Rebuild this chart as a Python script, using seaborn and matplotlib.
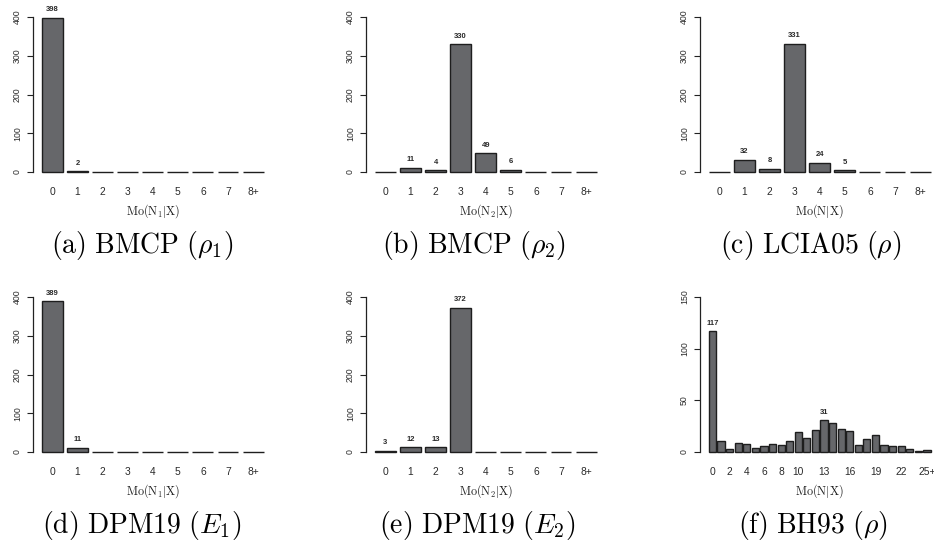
import matplotlib
matplotlib.use("Agg")
import matplotlib.pyplot as plt
import seaborn as sns
import pandas as pd

# ---------------- data ----------------
cats9 = ["0", "1", "2", "3", "4", "5", "6", "7", "8+"]
bmcp_rho1 = [398, 2, 0, 0, 0, 0, 0, 0, 0]
bmcp_rho2 = [0, 11, 4, 330, 49, 6, 0, 0, 0]
lcia05_rho = [0, 32, 8, 331, 24, 5, 0, 0, 0]
dpm19_e1 = [389, 11, 0, 0, 0, 0, 0, 0, 0]
dpm19_e2 = [3, 12, 13, 372, 0, 0, 0, 0, 0]

cats26 = [str(i) for i in range(25)] + ["25+"]
bh93_rho = [117, 11, 3, 9, 8, 4, 6, 8, 7, 11, 19, 14, 21, 31, 28, 22, 20,
            7, 13, 16, 7, 6, 6, 3, 1, 2]
bh93_ticks = ["0", "2", "4", "6", "8", "10", "13", "16", "19", "22", "25+"]
bh93_labeled = ["0", "13"]

ylim9 = 400
yticks9 = [0, 100, 200, 300, 400]
ylim_f = 150
yticks_f = [0, 50, 100, 150]

xlabels = [r"$\mathrm{Mo(N_1|X)}$", r"$\mathrm{Mo(N_2|X)}$", r"$\mathrm{Mo(N|X)}$",
           r"$\mathrm{Mo(N_1|X)}$", r"$\mathrm{Mo(N_2|X)}$", r"$\mathrm{Mo(N|X)}$"]
captions = [r"$\mathrm{(a)\ BMCP\ (}\rho_1\mathrm{)}$",
            r"$\mathrm{(b)\ BMCP\ (}\rho_2\mathrm{)}$",
            r"$\mathrm{(c)\ LCIA05\ (}\rho\mathrm{)}$",
            r"$\mathrm{(d)\ DPM19\ (}E_1\mathrm{)}$",
            r"$\mathrm{(e)\ DPM19\ (}E_2\mathrm{)}$",
            r"$\mathrm{(f)\ BH93\ (}\rho\mathrm{)}$"]

# ---------------- style ----------------
sns.set_style("white")
plt.rcParams["font.family"] = ["Liberation Sans", "DejaVu Sans"]
plt.rcParams["mathtext.fontset"] = "cm"

W, H = 934, 544
fig = plt.figure(figsize=(W / 100, H / 100), dpi=100)

BAR = "#66676a"
EDGE = "#1e1e1e"
TXT = "#2a2a2a"

lefts_px = [33, 366, 700]
width_px = 239.4
bottoms_px = [178.2, 458.2]
height_px = 167.4
xlabel_y = [211, 491]
caption_y = [246, 526]
caption_x = [142, 474, 811, 142, 477, 813]

panels = [
    (cats9, bmcp_rho1, cats9, None, ylim9, yticks9),
    (cats9, bmcp_rho2, cats9, None, ylim9, yticks9),
    (cats9, lcia05_rho, cats9, None, ylim9, yticks9),
    (cats9, dpm19_e1, cats9, None, ylim9, yticks9),
    (cats9, dpm19_e2, cats9, None, ylim9, yticks9),
    (cats26, bh93_rho, bh93_ticks, bh93_labeled, ylim_f, yticks_f),
]

bw = 1 / 1.2
for i, (cats, vals, ticklabs, labeled, ymax, yticks) in enumerate(panels):
    r, c = divmod(i, 3)
    ax = fig.add_axes([lefts_px[c] / W, 1 - bottoms_px[r] / H,
                       width_px / W, height_px / H])
    df = pd.DataFrame({"cat": cats, "val": vals})
    sns.barplot(data=df, x="cat", y="val", order=cats, ax=ax, color=BAR,
                saturation=1, width=bw, edgecolor=EDGE, linewidth=1.0)
    n = len(cats)
    span = (n - 1) + bw
    pad = 0.04 * span
    ax.set_xlim(-bw / 2 - pad, n - 1 + bw / 2 + pad)
    ax.set_ylim(-0.04 * ymax, ymax * 1.04)
    for s in ["top", "right", "bottom"]:
        ax.spines[s].set_visible(False)
    ax.spines["left"].set_bounds(0, ymax)
    ax.spines["left"].set_color("#222222")
    ax.spines["left"].set_linewidth(0.9)
    ax.set_yticks(yticks)
    ax.set_yticklabels([str(t) for t in yticks], rotation=90, va="center",
                       fontsize=6.3, color=TXT)
    ax.tick_params(axis="y", length=4, width=0.8, color="#222222", pad=4,
                   left=True)
    pos = [cats.index(t) for t in ticklabs]
    ax.set_xticks(pos)
    ax.set_xticklabels(ticklabs, fontsize=7.4, color=TXT)
    ax.tick_params(axis="x", length=0, pad=6)
    ax.set_xlabel("")
    ax.set_ylabel("")
    # value labels
    for j, (cat, v) in enumerate(zip(cats, vals)):
        show = (v > 0) if labeled is None else (cat in labeled)
        if show:
            ax.annotate(str(v), (j, v), xytext=(0, 3.2), textcoords="offset points",
                        ha="center", va="bottom", fontsize=5.5,
                        fontweight="bold", color=TXT)
    cx = (lefts_px[c] + width_px / 2) / W
    fig.text(cx, 1 - xlabel_y[r] / H, xlabels[i], ha="center", va="center",
             fontsize=8.7, color="#222222")
    fig.text(caption_x[i] / W, 1 - caption_y[r] / H, captions[i], ha="center",
             va="center", fontsize=20, color="black")

fig.savefig("out.png", dpi=100)
